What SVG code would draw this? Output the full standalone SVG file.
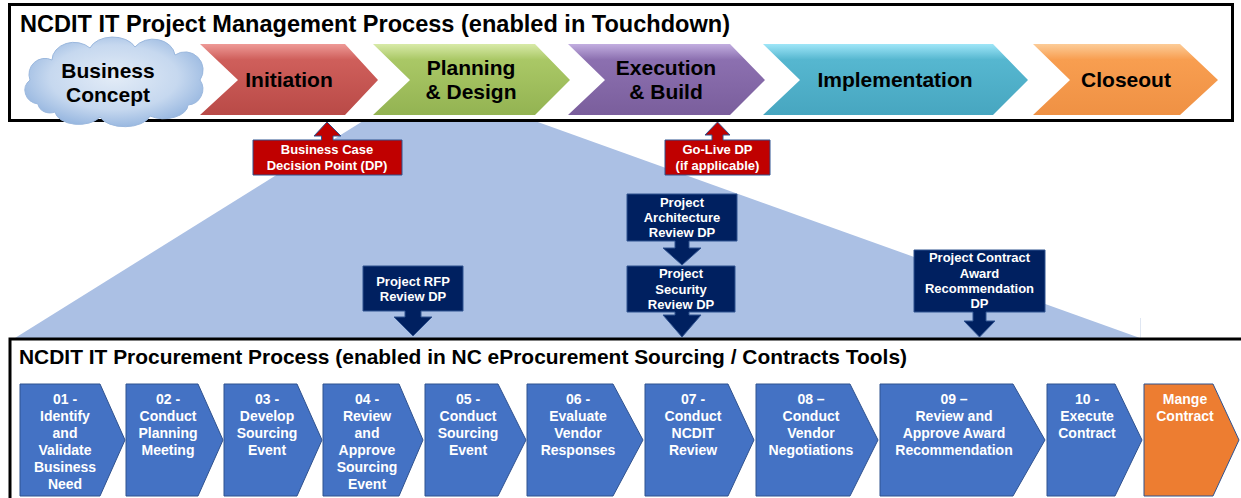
<svg xmlns="http://www.w3.org/2000/svg" width="1241" height="498" viewBox="0 0 1241 498">
<defs>
<linearGradient id="gRed" x1="0" y1="0" x2="0" y2="1"><stop offset="0" stop-color="#ee9a97"/><stop offset="0.22" stop-color="#cf5f5b"/><stop offset="1" stop-color="#b94a47"/></linearGradient>
<linearGradient id="gGreen" x1="0" y1="0" x2="0" y2="1"><stop offset="0" stop-color="#d8eaa8"/><stop offset="0.22" stop-color="#aac866"/><stop offset="1" stop-color="#93b352"/></linearGradient>
<linearGradient id="gPurple" x1="0" y1="0" x2="0" y2="1"><stop offset="0" stop-color="#c2aee0"/><stop offset="0.22" stop-color="#8c70b0"/><stop offset="1" stop-color="#7a5e9c"/></linearGradient>
<linearGradient id="gTeal" x1="0" y1="0" x2="0" y2="1"><stop offset="0" stop-color="#9fe6f8"/><stop offset="0.22" stop-color="#56b7d0"/><stop offset="1" stop-color="#47a6c0"/></linearGradient>
<linearGradient id="gOrange" x1="0" y1="0" x2="0" y2="1"><stop offset="0" stop-color="#fccc98"/><stop offset="0.22" stop-color="#f89e50"/><stop offset="1" stop-color="#ef9144"/></linearGradient>
<radialGradient id="gCloud" cx="0.5" cy="0.45" r="0.6"><stop offset="0" stop-color="#e3ecf7"/><stop offset="0.6" stop-color="#c6d8ef"/><stop offset="1" stop-color="#8fb1dd"/></radialGradient>
<style>
.frame{fill:#fff;stroke:#000;stroke-width:3}
.title{font-family:"Liberation Sans",Arial,sans-serif;font-weight:bold;fill:#000}
.ptxt{font-family:"Liberation Sans",Arial,sans-serif;font-weight:bold;font-size:21px;fill:#000;text-anchor:middle}
.shadow{fill:#bfbfbf;opacity:0.5}
.step{fill:#4472c4;stroke:#2f528f;stroke-width:1}
.stepO{fill:#ed7d31;stroke:#2f528f;stroke-width:1}
.stxt{font-family:"Liberation Sans",Arial,sans-serif;font-weight:bold;font-size:14px;fill:#fff;text-anchor:middle}
.red{fill:#c00000;stroke:#2f528f;stroke-width:1}
.navy{fill:#002060;stroke:#2f528f;stroke-width:1}
.ctxt{font-family:"Liberation Sans",Arial,sans-serif;font-weight:bold;font-size:13px;fill:#fff;text-anchor:middle}
</style>
</defs>

<g id="funnel">
<polygon points="363,121 535,121 1140,338 15,338" fill="#abc0e4"/>
<line x1="1140.5" y1="318" x2="1140.5" y2="338" stroke="#dfe6f2" stroke-width="1"/>
</g>

<g id="pm-frame">
<rect class="frame" x="9.5" y="4.5" width="1223" height="116"/>
<text class="title" x="20" y="32" font-size="23" textLength="710" lengthAdjust="spacingAndGlyphs">NCDIT IT Project Management Process (enabled in Touchdown)</text>
</g>

<g id="business-concept">
<path d="M38 104 A16 14 0 0 1 30 80 A16 16 0 0 1 52 60 A22 18 0 0 1 90 48 A24 16 0 0 1 135 47 A22 18 0 0 1 175 55 A18 18 0 0 1 200 80 A16 16 0 0 1 188 105 A24 14 0 0 1 150 116 A26 14 0 0 1 100 117 A24 14 0 0 1 55 112 A12 10 0 0 1 38 104 Z" fill="url(#gCloud)" stroke="#9bb8de" stroke-width="1"/>
<text class="ptxt" x="108" y="78">Business</text>
<text class="ptxt" x="108" y="102">Concept</text>
</g>

<g id="initiation">
<polygon points="200,44 345,44 378,80 345,115 200,115 238,80" fill="url(#gRed)"/>
<text class="ptxt" x="289" y="87">Initiation</text>
</g>
<g id="planning">
<polygon points="373,44 535,44 570,80 535,115 373,115 410,80" fill="url(#gGreen)"/>
<text class="ptxt" x="471" y="75">Planning</text>
<text class="ptxt" x="471" y="99">&amp; Design</text>
</g>
<g id="execution">
<polygon points="568,44 730,44 765,80 730,115 568,115 605,80" fill="url(#gPurple)"/>
<text class="ptxt" x="666" y="75">Execution</text>
<text class="ptxt" x="666" y="99">&amp; Build</text>
</g>
<g id="implementation">
<polygon points="763,44 993,44 1028,80 993,115 763,115 800,80" fill="url(#gTeal)"/>
<text class="ptxt" x="895" y="87">Implementation</text>
</g>
<g id="closeout">
<polygon points="1033,44 1180,44 1218,80 1180,115 1033,115 1070,80" fill="url(#gOrange)"/>
<text class="ptxt" x="1126" y="87">Closeout</text>
</g>

<g id="dp-business-case">
<path class="red" d="M253 140 H321.5 V136 H314 L327 122 L341 136 H333 V140 H402 V175 H253 Z"/>
<text class="ctxt" x="327" y="154">Business Case</text>
<text class="ctxt" x="327" y="170">Decision Point (DP)</text>
</g>
<g id="dp-go-live">
<path class="red" d="M665 140 H712 V135 H705 L717.5 122 L730 135 H723 V140 H770 V175 H665 Z"/>
<text class="ctxt" x="717.5" y="154">Go-Live DP</text>
<text class="ctxt" x="717.5" y="170">(if applicable)</text>
</g>
<g id="dp-architecture">
<path class="navy" d="M627 194 H737 V241 H689 V248 H701 L682 265 L663 248 H675 V241 H627 Z"/>
<text class="ctxt" x="682" y="207">Project</text>
<text class="ctxt" x="682" y="222">Architecture</text>
<text class="ctxt" x="682" y="237">Review DP</text>
</g>
<g id="dp-security">
<path class="navy" d="M627 266 H735 V312 H689 V315 H701 L682 337 L663 315 H675 V312 H627 Z"/>
<text class="ctxt" x="681" y="278">Project</text>
<text class="ctxt" x="681" y="293.5">Security</text>
<text class="ctxt" x="681" y="309">Review DP</text>
</g>
<g id="dp-rfp">
<path class="navy" d="M363 266 H463 V311 H421 V317 H432 L413 336 L394 317 H405 V311 H363 Z"/>
<text class="ctxt" x="413" y="286">Project RFP</text>
<text class="ctxt" x="413" y="301">Review DP</text>
</g>
<g id="dp-contract-award">
<path class="navy" d="M914 250 H1045 V312 H986 V321 H995 L979.5 337 L964 321 H973 V312 H914 Z"/>
<text class="ctxt" x="979.5" y="262">Project Contract</text>
<text class="ctxt" x="979.5" y="278">Award</text>
<text class="ctxt" x="979.5" y="293">Recommendation</text>
<text class="ctxt" x="979.5" y="308">DP</text>
</g>

<g id="proc-frame">
<rect class="frame" x="10" y="339" width="1240" height="200"/>
<text class="title" x="19" y="364" font-size="21" textLength="888" lengthAdjust="spacingAndGlyphs">NCDIT IT Procurement Process (enabled in NC eProcurement Sourcing / Contracts Tools)</text>
</g>

<g id="step-01">
<polygon class="step" points="20,384 100,384 125,440 100,496 20,496"/>
<text class="stxt" x="65" y="404">01 -</text>
<text class="stxt" x="65" y="421">Identify</text>
<text class="stxt" x="65" y="438">and</text>
<text class="stxt" x="65" y="455">Validate</text>
<text class="stxt" x="65" y="472">Business</text>
<text class="stxt" x="65" y="489">Need</text>
</g>
<g id="step-02">
<polygon class="step" points="126,384 198,384 223,440 198,496 126,496"/>
<text class="stxt" x="168" y="404">02 -</text>
<text class="stxt" x="168" y="421">Conduct</text>
<text class="stxt" x="168" y="438">Planning</text>
<text class="stxt" x="168" y="455">Meeting</text>
</g>
<g id="step-03">
<polygon class="step" points="224,384 297,384 322,440 297,496 224,496"/>
<text class="stxt" x="267" y="404">03 -</text>
<text class="stxt" x="267" y="421">Develop</text>
<text class="stxt" x="267" y="438">Sourcing</text>
<text class="stxt" x="267" y="455">Event</text>
</g>
<g id="step-04">
<polygon class="step" points="323,384 399,384 423,440 399,496 323,496"/>
<text class="stxt" x="367" y="404">04 -</text>
<text class="stxt" x="367" y="421">Review</text>
<text class="stxt" x="367" y="438">and</text>
<text class="stxt" x="367" y="455">Approve</text>
<text class="stxt" x="367" y="472">Sourcing</text>
<text class="stxt" x="367" y="489">Event</text>
</g>
<g id="step-05">
<polygon class="step" points="425,384 498,384 526,440 498,496 425,496"/>
<text class="stxt" x="468" y="404">05 -</text>
<text class="stxt" x="468" y="421">Conduct</text>
<text class="stxt" x="468" y="438">Sourcing</text>
<text class="stxt" x="468" y="455">Event</text>
</g>
<g id="step-06">
<polygon class="step" points="527,384 613,384 643,440 613,496 527,496"/>
<text class="stxt" x="578" y="404">06 -</text>
<text class="stxt" x="578" y="421">Evaluate</text>
<text class="stxt" x="578" y="438">Vendor</text>
<text class="stxt" x="578" y="455">Responses</text>
</g>
<g id="step-07">
<polygon class="step" points="645,384 728,384 754,440 728,496 645,496"/>
<text class="stxt" x="693" y="404">07 -</text>
<text class="stxt" x="693" y="421">Conduct</text>
<text class="stxt" x="693" y="438">NCDIT</text>
<text class="stxt" x="693" y="455">Review</text>
</g>
<g id="step-08">
<polygon class="step" points="756,384 850,384 878,440 850,496 756,496"/>
<text class="stxt" x="811" y="404">08 –</text>
<text class="stxt" x="811" y="421">Conduct</text>
<text class="stxt" x="811" y="438">Vendor</text>
<text class="stxt" x="811" y="455">Negotiations</text>
</g>
<g id="step-09">
<polygon class="step" points="880,384 1013,384 1045,440 1013,496 880,496"/>
<text class="stxt" x="954" y="404">09 –</text>
<text class="stxt" x="954" y="421">Review and</text>
<text class="stxt" x="954" y="438">Approve Award</text>
<text class="stxt" x="954" y="455">Recommendation</text>
</g>
<g id="step-10">
<polygon class="step" points="1047,384 1115,384 1142,440 1115,496 1047,496"/>
<text class="stxt" x="1087" y="404">10 -</text>
<text class="stxt" x="1087" y="421">Execute</text>
<text class="stxt" x="1087" y="438">Contract</text>
</g>
<g id="step-manage">
<polygon class="stepO" points="1144,384 1213,384 1239,440 1213,496 1144,496"/>
<text class="stxt" x="1185" y="404">Mange</text>
<text class="stxt" x="1185" y="421">Contract</text>
</g>

<g id="connectors"></g>
</svg>
